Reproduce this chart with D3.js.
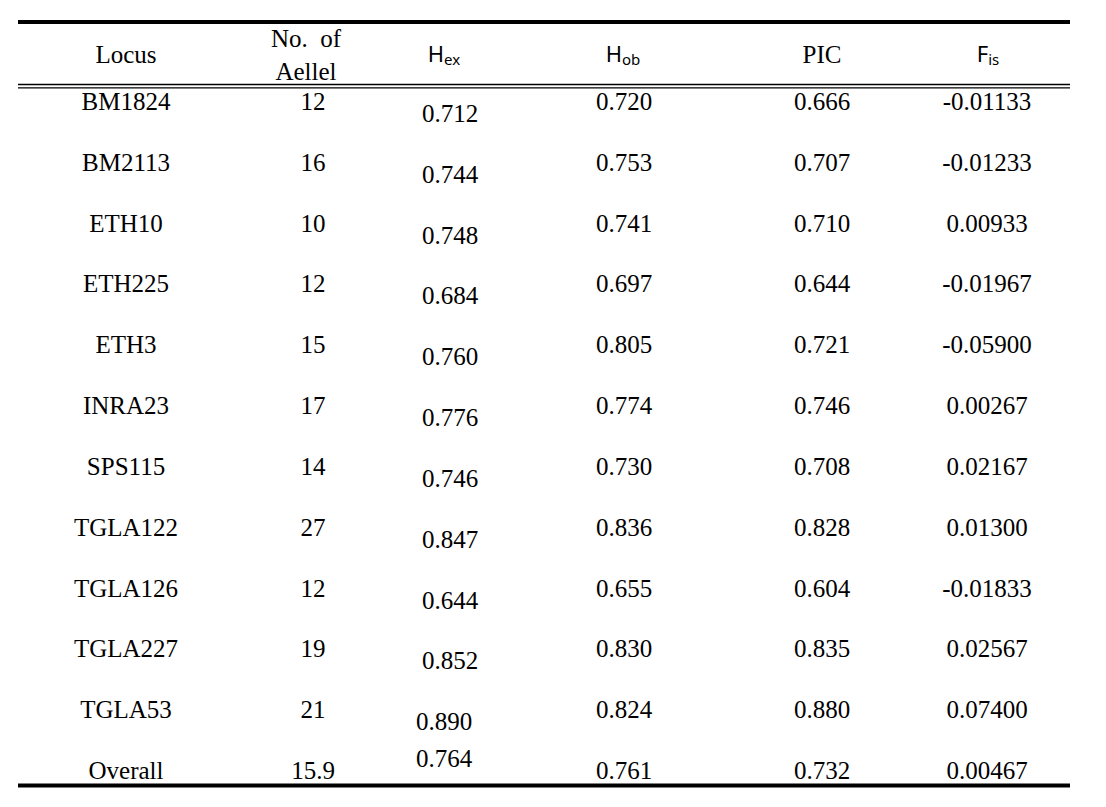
<!DOCTYPE html>
<html>
<head>
<meta charset="utf-8">
<script src="https://cdn.jsdelivr.net/npm/d3@7"></script>
<style>
  html, body { margin: 0; padding: 0; background: #fff; }
  svg { display: block; }
</style>
</head>
<body>
<svg id="chart" width="1106" height="807"></svg>
<script>
// ---- data ----
const loci = ["BM1824", "BM2113", "ETH10", "ETH225", "ETH3", "INRA23", "SPS115", "TGLA122", "TGLA126", "TGLA227", "TGLA53", "Overall"];
const alleles = ["12", "16", "10", "12", "15", "17", "14", "27", "12", "19", "21", "15.9"];
const hex = ["0.712", "0.744", "0.748", "0.684", "0.760", "0.776", "0.746", "0.847", "0.644", "0.852", "0.890", "0.764"];
const hob = ["0.720", "0.753", "0.741", "0.697", "0.805", "0.774", "0.730", "0.836", "0.655", "0.830", "0.824", "0.761"];
const pic = ["0.666", "0.707", "0.710", "0.644", "0.721", "0.746", "0.708", "0.828", "0.604", "0.835", "0.880", "0.732"];
const fis = ["-0.01133", "-0.01233", "0.00933", "-0.01967", "-0.05900", "0.00267", "0.02167", "0.01300", "-0.01833", "0.02567", "0.07400", "0.00467"];
const columns = ["locus", "alleles", "hex", "hob", "pic", "fis"];

// ---- layout ----
const SERIF = '"Liberation Serif", "Times New Roman", serif';
const SANS = '"Noto Sans", "Open Sans", sans-serif';
const FS = "25px";
const svg = d3.select("#chart");
const x = d3.scaleOrdinal().domain(columns).range([126, 313, 450, 624, 822, 987]);
const xHead = d3.scaleOrdinal().domain(columns).range([126, 306, 444, 623, 822, 988]);
const y = d3.scalePoint().domain(loci).range([102, 771]);
const lineX = [18, 1070];

function serifText(sel) {
  return sel.attr("text-anchor", "middle").style("font-family", SERIF).style("font-size", FS).attr("fill", "#000");
}

// rules
function hline(yy, w) {
  svg.append("line").attr("x1", lineX[0]).attr("x2", lineX[1])
    .attr("y1", yy).attr("y2", yy).attr("stroke", "#000").attr("stroke-width", w);
}
hline(22, 4);
hline(84.5, 1.3);
hline(87.8, 1.3);
hline(785.5, 4);

// header
const head = svg.append("g");
serifText(head.append("text")).attr("x", xHead("locus")).attr("y", 63).text("Locus");
serifText(head.append("text")).attr("x", xHead("alleles")).attr("y", 47)
  .style("white-space", "pre").text("No.  of");
serifText(head.append("text")).attr("x", xHead("alleles")).attr("y", 80).text("Aellel");
serifText(head.append("text")).attr("x", xHead("pic")).attr("y", 63).text("PIC");

function subHead(key, main, sub) {
  const t = head.append("text").attr("text-anchor", "middle").style("font-family", SANS).attr("fill", "#000")
    .attr("x", xHead(key)).attr("y", 62);
  t.append("tspan").style("font-size", "22px").text(main);
  t.append("tspan").style("font-size", "15px").attr("dy", 3).text(sub);
}
subHead("hex", "H", "ex");
subHead("hob", "H", "ob");
subHead("fis", "F", "is");

// body
const rows = svg.append("g").selectAll("g").data(loci).join("g");
const base = 8;
serifText(rows.append("text")).attr("x", x("locus")).attr("y", d => y(d) + base).text(d => d);
serifText(rows.append("text")).attr("x", x("alleles")).attr("y", d => y(d) + base).text((d, i) => alleles[i]);
serifText(rows.append("text"))
  .attr("x", (d, i) => i >= loci.length - 2 ? x("hex") - 6 : x("hex"))
  .attr("y", (d, i) => y(d) + base + (i === loci.length - 1 ? -12 : 12))
  .text((d, i) => hex[i]);
serifText(rows.append("text")).attr("x", x("hob")).attr("y", d => y(d) + base).text((d, i) => hob[i]);
serifText(rows.append("text")).attr("x", x("pic")).attr("y", d => y(d) + base).text((d, i) => pic[i]);
serifText(rows.append("text")).attr("x", x("fis")).attr("y", d => y(d) + base).text((d, i) => fis[i]);
</script>
</body>
</html>
